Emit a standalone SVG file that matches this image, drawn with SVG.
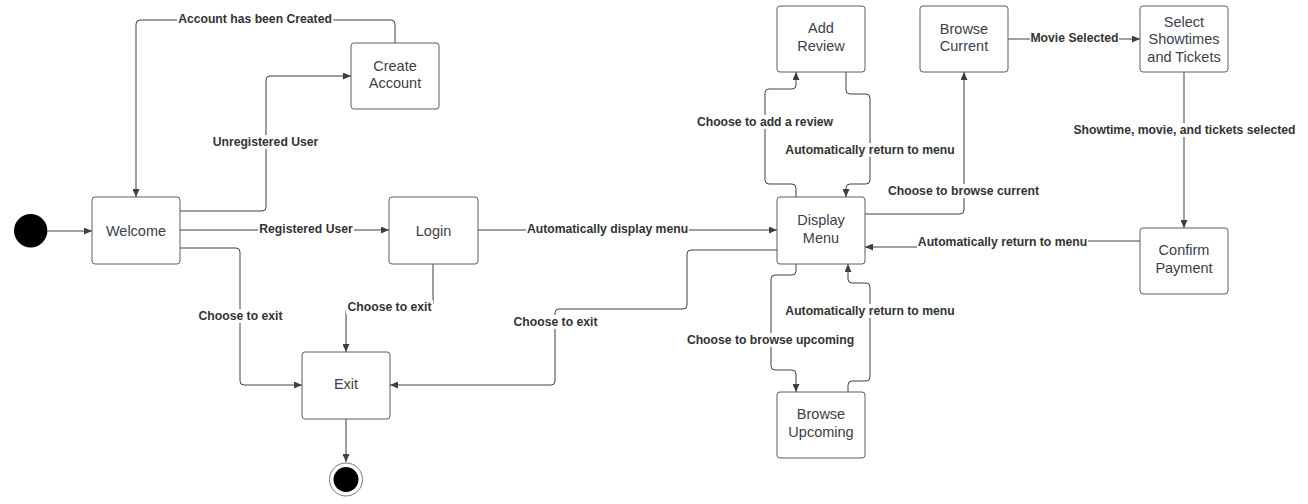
<svg xmlns="http://www.w3.org/2000/svg" width="1308" height="504" viewBox="0 0 1308 504">
<style>
.box{fill:#fff;stroke:#5a5e66;stroke-width:1}
.nt{font-family:"Liberation Sans",Arial,sans-serif;font-size:14.5px;fill:#3a414a;text-anchor:middle;dominant-baseline:central}
.ln{fill:none;stroke:#3a414a;stroke-width:1;marker-end:url(#ah)}
.lb{font-family:"Liberation Sans",Arial,sans-serif;font-size:12.2px;font-weight:bold;fill:#333;text-anchor:middle;dominant-baseline:central}
.lr{fill:#fff}
</style>
<defs>
<marker id="ah" markerWidth="8" markerHeight="7" refX="8" refY="3.5" orient="auto" markerUnits="userSpaceOnUse">
<path d="M0,0 L8,3.5 L0,7 z" fill="#3a414a"/>
</marker>
</defs>
<rect width="1308" height="504" fill="#fff"/>
<g id="connectors">
<path class="ln" d="M47.5,231 H92"/>
<path class="ln" d="M180,211 H262 Q266,211 266,207 V80 Q266,76 270,76 H351"/>
<path class="ln" d="M395,43 V24 Q395,20 391,20 H140 Q136,20 136,24 V197"/>
<path class="ln" d="M180,230 H389"/>
<path class="ln" d="M180,248 H236 Q240,248 240,252 V381 Q240,385 244,385 H302"/>
<path class="ln" d="M433,264 V303 Q433,307 429,307 H350 Q346,307 346,311 V352"/>
<path class="ln" d="M777,250 H691 Q687,250 687,254 V305 Q687,309 683,309 H559 Q555,309 555,313 V381 Q555,385 551,385 H390"/>
<path class="ln" d="M478,230 H777"/>
<path class="ln" d="M796,197 V188 Q796,184 792,184 H769 Q765,184 765,180 V93 Q765,89 769,89 H792 Q796,89 796,85 V72"/>
<path class="ln" d="M846,72 V90 Q846,94 850,94 H866 Q870,94 870,98 V180 Q870,184 866,184 H850 Q846,184 846,188 V197"/>
<path class="ln" d="M865,214 H960 Q964,214 964,210 V72"/>
<path class="ln" d="M1008,39 H1140"/>
<path class="ln" d="M1184,72 V228"/>
<path class="ln" d="M1140,241 H1002 V247 H865"/>
<path class="ln" d="M796,264 V271 Q796,275 792,275 H775 Q771,275 771,279 V366 Q771,370 775,370 H792 Q796,370 796,374 V392"/>
<path class="ln" d="M848,392 V385 Q848,381 852,381 H866 Q870,381 870,377 V287 Q870,283 866,283 H852 Q848,283 848,279 V264"/>
<path class="ln" d="M346,419 V462"/>
<g id="labels">
<rect class="lr" x="177" y="12" width="156" height="14"/><text class="lb" x="255" y="19">Account has been Created</text>
<rect class="lr" x="212" y="135" width="108" height="14"/><text class="lb" x="265.5" y="142">Unregistered User</text>
<rect class="lr" x="258" y="222" width="96" height="14"/><text class="lb" x="306" y="229">Registered User</text>
<rect class="lr" x="197" y="309" width="87" height="14"/><text class="lb" x="240.5" y="316">Choose to exit</text>
<rect class="lr" x="346" y="300" width="87" height="14"/><text class="lb" x="389.5" y="307">Choose to exit</text>
<rect class="lr" x="512" y="315" width="87" height="14"/><text class="lb" x="555.5" y="322">Choose to exit</text>
<rect class="lr" x="526" y="222" width="163" height="14"/><text class="lb" x="607.5" y="229">Automatically display menu</text>
<rect class="lr" x="696" y="115" width="139" height="14"/><text class="lb" x="765" y="122">Choose to add a review</text>
<rect class="lr" x="784" y="143" width="172" height="14"/><text class="lb" x="870" y="150">Automatically return to menu</text>
<rect class="lr" x="887" y="184" width="153" height="14"/><text class="lb" x="963.5" y="191">Choose to browse current</text>
<rect class="lr" x="1030" y="31" width="89" height="14"/><text class="lb" x="1074.5" y="38">Movie Selected</text>
<rect class="lr" x="1072" y="123" width="225" height="14"/><text class="lb" x="1184.5" y="130">Showtime, movie, and tickets selected</text>
<rect class="lr" x="917" y="235" width="171" height="14"/><text class="lb" x="1002.5" y="242">Automatically return to menu</text>
<rect class="lr" x="685" y="333" width="171" height="14"/><text class="lb" x="770.5" y="340">Choose to browse upcoming</text>
<rect class="lr" x="784" y="304" width="172" height="14"/><text class="lb" x="870" y="311">Automatically return to menu</text>
</g>
</g>
<g id="start"><circle cx="30.7" cy="230.7" r="16.7" fill="#000"/></g>
<g id="welcome"><rect class="box" x="92" y="197" width="88" height="67" rx="3"/><text class="nt" x="136" y="230.5">Welcome</text></g>
<g id="create-account"><rect class="box" x="351" y="43" width="88" height="66" rx="3"/><text class="nt" x="395" y="65.5">Create</text><text class="nt" x="395" y="82.5">Account</text></g>
<g id="login"><rect class="box" x="389" y="197" width="89" height="67" rx="3"/><text class="nt" x="433.5" y="230.5">Login</text></g>
<g id="exit"><rect class="box" x="302" y="352" width="88" height="67" rx="3"/><text class="nt" x="346" y="384">Exit</text></g>
<g id="end"><circle cx="346" cy="479.5" r="16.5" fill="#fff" stroke="#777" stroke-width="1"/><circle cx="346" cy="479.5" r="12.5" fill="#000"/></g>
<g id="add-review"><rect class="box" x="777" y="6" width="88" height="66" rx="3"/><text class="nt" x="821" y="28">Add</text><text class="nt" x="821" y="45.5">Review</text></g>
<g id="browse-current"><rect class="box" x="920" y="6" width="88" height="66" rx="3"/><text class="nt" x="964" y="28.5">Browse</text><text class="nt" x="964" y="45.5">Current</text></g>
<g id="select-showtimes"><rect class="box" x="1140" y="6" width="88" height="66" rx="3"/><text class="nt" x="1184" y="21.5">Select</text><text class="nt" x="1184" y="39">Showtimes</text><text class="nt" x="1184" y="56.5">and Tickets</text></g>
<g id="display-menu"><rect class="box" x="777" y="197" width="88" height="67" rx="3"/><text class="nt" x="821" y="220">Display</text><text class="nt" x="821" y="237.5">Menu</text></g>
<g id="confirm-payment"><rect class="box" x="1140" y="228" width="88" height="66" rx="3"/><text class="nt" x="1184" y="250">Confirm</text><text class="nt" x="1184" y="267.5">Payment</text></g>
<g id="browse-upcoming"><rect class="box" x="777" y="392" width="88" height="66" rx="3"/><text class="nt" x="821" y="414">Browse</text><text class="nt" x="821" y="432">Upcoming</text></g>
</svg>
